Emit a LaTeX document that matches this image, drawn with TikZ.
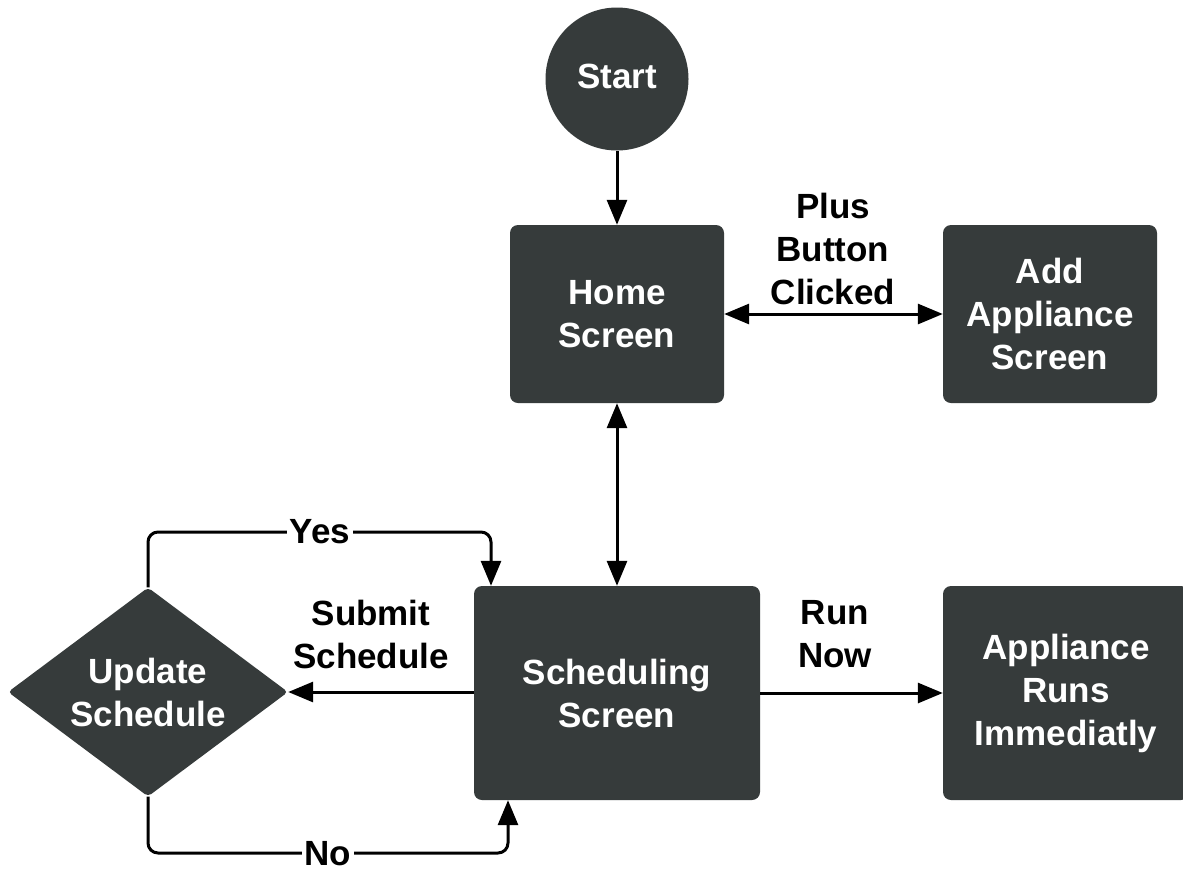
\documentclass[tikz,border=0pt]{standalone}
\usepackage{fontspec}
\setmainfont{Liberation Sans}
\usetikzlibrary{arrows.meta,shapes.geometric}
\definecolor{boxfill}{RGB}{54,59,59}
\begin{document}
\begin{tikzpicture}[x=1pt,y=-1pt,
  txt/.style={font=\fontsize{35}{43}\selectfont\bfseries, align=center},
  stepbox/.style={txt, draw=none, fill=boxfill, text=white, rounded corners=8pt, inner sep=0pt},
  lbl/.style={txt, text=black, inner sep=1pt},
  arr/.style={line width=3pt, -{Triangle[length=25pt,width=20pt]}},
  darr/.style={line width=3pt, {Triangle[length=25pt,width=20pt]}-{Triangle[length=25pt,width=20pt]}}]
\useasboundingbox (0,0) rectangle (1183,871);
\fill[white] (0,0) rectangle (1183,871);

% nodes
\node[circle, fill=boxfill, minimum size=143pt, inner sep=0pt] (start) at (617,79) {};
\node[txt, text=white] at (617,76) {Start};
\node[stepbox, minimum width=214pt, minimum height=178pt] (home) at (617,314) {Home\\Screen};
\node[stepbox, minimum width=214pt, minimum height=178pt] (add) at (1050,314) {Add\\Appliance\\Screen};
\node[stepbox, minimum width=286pt, minimum height=214pt] (sched) at (617,693) {Scheduling\\Screen};
\node[stepbox, minimum width=246pt, minimum height=214pt] (run) at (1066,693) {Appliance\\Runs\\Immediatly};
\node[diamond, fill=boxfill, text=white, txt, aspect=1.34, minimum width=280pt, minimum height=209pt, inner sep=0pt, rounded corners=4pt] (dia) at (148,692) {Update\\Schedule};

% connectors
\draw[arr] (start) -- (home);
\draw[darr] (home) -- (add);
\node[lbl] (plus) at (833,249) {Plus\\Button\\Clicked};
\draw[darr] (home) -- (sched);
\draw[arr] (sched.west |- dia.east) -- (dia.east);
\node[lbl] (submit) at (371,634) {Submit\\Schedule};
\draw[arr] (sched.east |- run.west) -- (run.west);
\node[lbl] (runnow) at (835,634) {Run\\Now};

\coordinate (yesA) at (148,532);
\coordinate (yesB) at (491,532);
\draw[arr, rounded corners=10pt] (dia.north) -- (yesA) -- (yesB) -- (yesB |- sched.north);
\node[lbl, fill=white, inner xsep=3pt, inner ysep=0pt] (yes) at (320,532) {Yes};

\coordinate (noA) at (148,853);
\coordinate (noB) at (508,853);
\draw[arr, rounded corners=10pt] (dia.south) -- (noA) -- (noB) -- (noB |- sched.south);
\node[lbl, fill=white, inner xsep=3pt, inner ysep=0pt, text height=25pt, text depth=0pt] (no) at (328,853) {No};
\end{tikzpicture}
\end{document}
